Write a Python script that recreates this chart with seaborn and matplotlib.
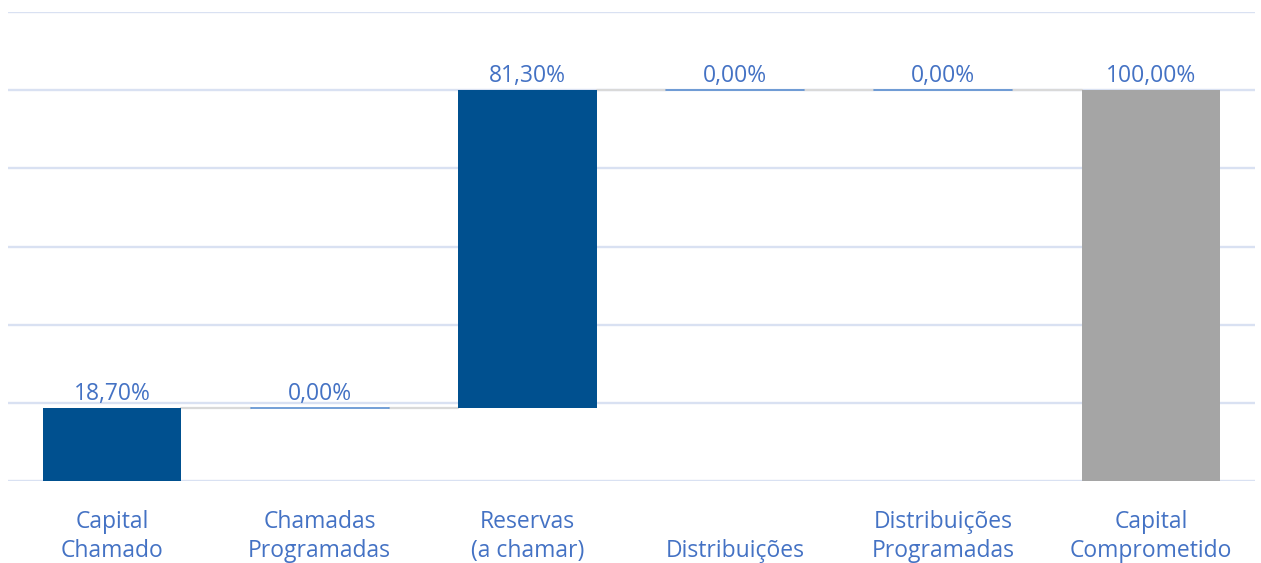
"""Waterfall do capital comprometido (percentual)."""
import matplotlib
matplotlib.use("Agg")
import matplotlib.pyplot as plt
import numpy as np
import pandas as pd
import seaborn as sns

categorias = ["Capital\nChamado", "Chamadas\nProgramadas", "Reservas\n(a chamar)",
              "Distribuições", "Distribuições\nProgramadas", "Capital\nComprometido"]
variacao = [18.70, 0.00, 81.30, 0.00, 0.00, 100.00]
base = [0.00, 18.70, 18.70, 100.00, 100.00, 0.00]
rotulos = ["18,70%", "0,00%", "81,30%", "0,00%", "0,00%", "100,00%"]
cores = ["#00508F", "#00508F", "#00508F", "#00508F", "#00508F", "#A5A5A5"]

AZUL_TXT = "#4472C4"
GRADE = "#D9E1F2"
CONECTOR = "#D9D9D9"
LARGURA = 0.665

sns.set_theme(style="white")
plt.rcParams["font.family"] = ["Open Sans", "DejaVu Sans"]

df = pd.DataFrame({"categoria": categorias, "variacao": variacao, "base": base})

fig = plt.figure(figsize=(12.61, 5.63), dpi=100)
ax = fig.add_axes([0.0063, 0.1456, 0.9889, 0.8331])

for y in range(0, 121, 20):
    ax.axhline(y, color=GRADE, lw=1.7, zorder=0)

sns.barplot(data=df, x="categoria", y="variacao", color=cores[0], saturation=1,
            bottom=df["base"].to_numpy(), width=LARGURA, ax=ax, zorder=2, linewidth=0)
for patch, cor in zip(ax.patches, cores):
    patch.set_facecolor(cor)

# barras de valor zero aparecem como traço fino
for i, (v, b) in enumerate(zip(variacao, base)):
    if v == 0:
        ax.plot([i - LARGURA / 2, i + LARGURA / 2], [b, b], color="#5B8FD0", lw=1.2, zorder=3)

# conectores entre barras
topo = [b + v for b, v in zip(base, variacao)]
for i in range(len(categorias) - 1):
    ax.plot([i + LARGURA / 2, i + 1 - LARGURA / 2], [topo[i], topo[i]],
            color=CONECTOR, lw=1.6, zorder=1)

for i, (t, txt) in enumerate(zip(topo, rotulos)):
    ax.annotate(txt, (i, t), xytext=(0, 1.5), textcoords="offset points",
                ha="center", va="bottom", fontsize=16.5, color=AZUL_TXT)

ax.set_xlim(-0.5, len(categorias) - 0.5)
ax.set_ylim(0, 120)
ax.set_yticks([])
ax.set_xlabel("")
ax.set_ylabel("")
# rótulos alinhados pela base (linha única fica na segunda linha)
ax.tick_params(axis="x", length=0, pad=59, labelsize=16.5, labelcolor=AZUL_TXT)
for lbl in ax.get_xticklabels():
    lbl.set_linespacing(1.25)
    lbl.set_verticalalignment("bottom")
sns.despine(ax=ax, left=True, bottom=True)

fig.savefig("out.png", dpi=100)
